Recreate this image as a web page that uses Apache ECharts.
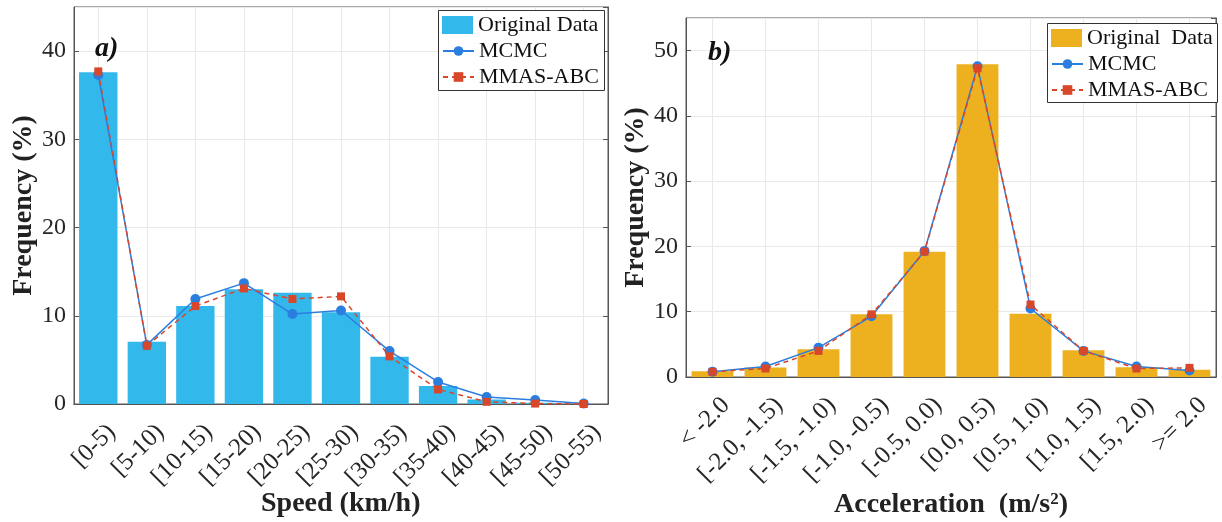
<!DOCTYPE html>
<html>
<head>
<meta charset="utf-8">
<script src="https://cdn.jsdelivr.net/npm/echarts@6/dist/echarts.min.js"></script>
<style>
html, body {margin: 0; padding: 0; background: #fff;}
#main {width: 1222px; height: 522px;}
</style>
</head>
<body>
<div id="main"></div>
<script>
// speed histogram (a)
var speedBins = ['[0-5)', '[5-10)', '[10-15)', '[15-20)', '[20-25)', '[25-30)', '[30-35)', '[35-40)', '[40-45)', '[45-50)', '[50-55)'];
var speedOriginal = [37.6, 7.05, 11.1, 13.0, 12.6, 10.4, 5.35, 2.05, 0.5, 0.15, 0];
var speedMCMC = [37.3, 6.7, 11.9, 13.7, 10.2, 10.6, 6.0, 2.5, 0.8, 0.45, 0.05];
var speedMMAS = [37.7, 6.6, 11.1, 13.1, 11.9, 12.2, 5.4, 1.65, 0.25, 0.05, 0];

// acceleration histogram (b)
var accBins = ['< -2.0', '[-2.0, -1.5)', '[-1.5, -1.0)', '[-1.0, -0.5)', '[-0.5, 0.0)', '[0.0, 0.5)', '[0.5, 1.0)', '[1.0, 1.5)', '[1.5, 2.0)', '>= 2.0'];
var accOriginal = [0.87, 1.45, 4.25, 9.6, 19.2, 47.9, 9.7, 4.1, 1.5, 1.1];
var accMCMC = [0.8, 1.6, 4.5, 9.3, 19.3, 47.6, 10.5, 4.0, 1.6, 1.0];
var accMMAS = [0.8, 1.3, 4.0, 9.6, 19.2, 47.3, 11.1, 4.0, 1.3, 1.4];

var FONT = 'Liberation Serif';
var AXIS_COLOR = '#555';
var GRID_COLOR = '#e9e9e9';
var BLUE = '#2a7ee0';
var RED = '#d9472b';

function bottomAxis(gridIndex, data) {
    return {
        type: 'category', gridIndex: gridIndex, data: data, position: 'bottom',
        axisLine: {lineStyle: {color: AXIS_COLOR}},
        axisTick: {alignWithLabel: true, inside: true, length: 5, lineStyle: {color: AXIS_COLOR}},
        // top-aligned tall line box pushes rotated labels down-right, like matlab
        axisLabel: {interval: 0, rotate: 45, fontFamily: FONT, fontSize: 25, color: '#262626', margin: 11,
            verticalAlign: 'top', lineHeight: 38},
        splitLine: {show: true, interval: 0, alignWithLabel: true, lineStyle: {color: GRID_COLOR}}
    };
}

function topAxis(gridIndex, data) {
    return {
        type: 'category', gridIndex: gridIndex, data: data, position: 'top',
        axisLine: {lineStyle: {color: AXIS_COLOR}},
        axisTick: {alignWithLabel: true, inside: true, length: 5, lineStyle: {color: AXIS_COLOR}},
        axisLabel: {show: false},
        splitLine: {show: false}
    };
}

function leftAxis(gridIndex, max) {
    return {
        type: 'value', gridIndex: gridIndex, min: 0, max: max, interval: 10, position: 'left',
        axisLine: {show: true, lineStyle: {color: AXIS_COLOR}},
        axisTick: {show: true, inside: true, length: 5, lineStyle: {color: AXIS_COLOR}},
        axisLabel: {fontFamily: FONT, fontSize: 24, color: '#262626', margin: 8, showMaxLabel: false},
        splitLine: {show: true, lineStyle: {color: GRID_COLOR}},
        name: 'Frequency (%)', nameLocation: 'middle', nameGap: 35,
        nameTextStyle: {fontFamily: FONT, fontSize: 28, fontWeight: 'bold', color: '#222'}
    };
}

function rightAxis(gridIndex, max) {
    return {
        type: 'value', gridIndex: gridIndex, min: 0, max: max, interval: 10, position: 'right',
        axisLine: {show: true, lineStyle: {color: AXIS_COLOR}},
        axisTick: {show: true, inside: true, length: 5, lineStyle: {color: AXIS_COLOR}},
        axisLabel: {show: false},
        splitLine: {show: false}
    };
}

function lineSeries(name, data, xi, yi, dashed) {
    return {
        name: name, type: 'line', xAxisIndex: xi, yAxisIndex: yi, data: data,
        symbol: dashed ? 'rect' : 'circle',
        symbolSize: dashed ? 8 : 10,
        itemStyle: {color: dashed ? RED : BLUE},
        lineStyle: {color: dashed ? RED : BLUE, width: 1.5, type: dashed ? [5, 4] : 'solid'},
        z: dashed ? 4 : 3
    };
}

function legendPart(left, top, names, itemHeight) {
    return {
        orient: 'vertical', left: left, top: top, data: names,
        padding: 0, itemGap: 4, itemWidth: 31, itemHeight: itemHeight, z: 10,
        textStyle: {fontFamily: FONT, fontSize: 22, color: '#111', lineHeight: 22}
    };
}

var boldRich = {fontFamily: FONT, fontSize: 28, fontWeight: 'bold', fill: '#222', color: '#222'};

var myChart = echarts.init(document.getElementById('main'));

option = {
    backgroundColor: '#fff',
    animation: false,
    grid: [
        {left: 74, top: 7, width: 534, height: 397, outerBoundsMode: 'none', containLabel: false,
            show: true, borderColor: AXIS_COLOR, borderWidth: 1, backgroundColor: '#fff'},
        {left: 686, top: 18, width: 530, height: 359, outerBoundsMode: 'none', containLabel: false,
            show: true, borderColor: AXIS_COLOR, borderWidth: 1, backgroundColor: '#fff'}
    ],
    legend: [
        legendPart(442, 14, [{name: 'Original Data', icon: 'rect'}], 18),
        legendPart(442, 40, ['MCMC', 'MMAS-ABC'], 12),
        legendPart(1051, 27, [{name: 'Original  Data', icon: 'rect'}], 18),
        legendPart(1051, 53, ['MCMC', 'MMAS-ABC'], 12)
    ],
    xAxis: [
        bottomAxis(0, speedBins),
        topAxis(0, speedBins),
        bottomAxis(1, accBins),
        topAxis(1, accBins)
    ],
    yAxis: [
        leftAxis(0, 45),
        rightAxis(0, 45),
        leftAxis(1, 55),
        rightAxis(1, 55)
    ],
    graphic: [
        {type: 'rect', z: 5, shape: {x: 438.5, y: 10.5, width: 166, height: 80}, style: {fill: '#fff', stroke: '#333', lineWidth: 1}},
        {type: 'rect', z: 5, shape: {x: 1047.5, y: 23.5, width: 170, height: 79}, style: {fill: '#fff', stroke: '#333', lineWidth: 1}},
        {type: 'text', z: 20, left: 95, top: 35, style: {text: 'a)', font: 'italic bold 28px "Liberation Serif"', fill: '#111'}},
        {type: 'text', z: 20, left: 708, top: 39, style: {text: 'b)', font: 'italic bold 28px "Liberation Serif"', fill: '#111'}},
        {
            type: 'text', z: 20, left: 261, top: 490,
            style: {text: '{b|Speed (km/h)}', rich: {b: boldRich}}
        },
        {
            type: 'text', z: 20, left: 834, top: 491,
            style: {
                text: '{b|Acceleration  (m/s}{s|2}{b|)}',
                rich: {
                    b: boldRich,
                    s: {fontFamily: FONT, fontSize: 17, fontWeight: 'bold', fill: '#222', color: '#222', verticalAlign: 'top', padding: [0, 0, 10, 0]}
                }
            }
        }
    ],
    series: [
        {
            name: 'Original Data', type: 'bar', xAxisIndex: 0, yAxisIndex: 0, data: speedOriginal,
            barCategoryGap: '21%', itemStyle: {color: '#33b8ec'}, z: 2
        },
        lineSeries('MCMC', speedMCMC, 0, 0, false),
        lineSeries('MMAS-ABC', speedMMAS, 0, 0, true),
        {
            name: 'Original  Data', type: 'bar', xAxisIndex: 2, yAxisIndex: 2, data: accOriginal,
            barCategoryGap: '21%', itemStyle: {color: '#edb120'}, z: 2
        },
        lineSeries('MCMC', accMCMC, 2, 2, false),
        lineSeries('MMAS-ABC', accMMAS, 2, 2, true)
    ]
};

myChart.setOption(option);
</script>
</body>
</html>
